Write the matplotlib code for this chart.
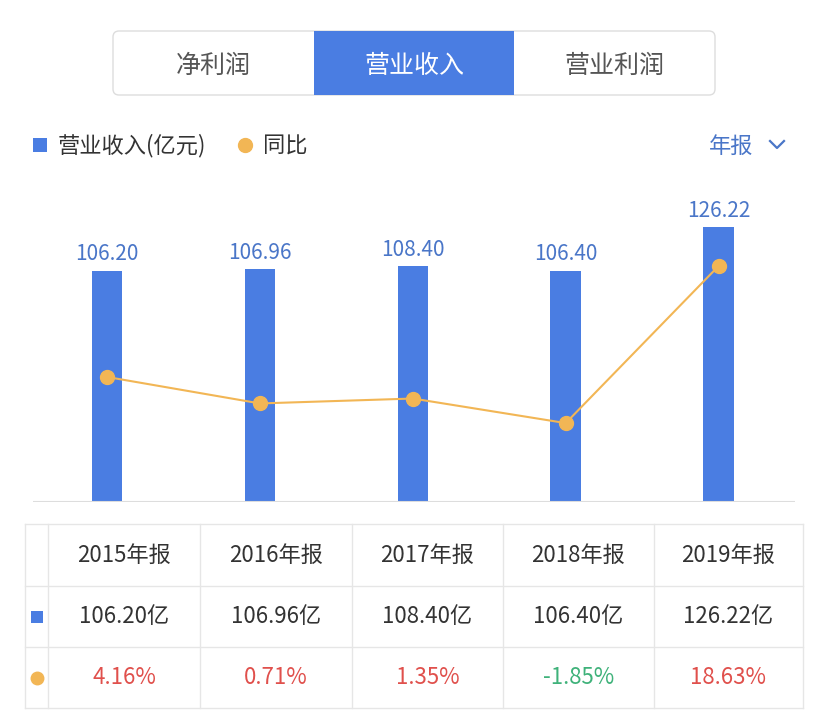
import matplotlib.pyplot as plt
from matplotlib.patches import FancyBboxPatch, Rectangle

plt.rcParams['font.family'] = ['Noto Sans CJK SC', 'DejaVu Sans']

# data
years = ['2015年报', '2016年报', '2017年报', '2018年报', '2019年报']
revenue = [106.20, 106.96, 108.40, 106.40, 126.22]
yoy = [4.16, 0.71, 1.35, -1.85, 18.63]
tabs = ['净利润', '营业收入', '营业利润']
active_tab = 1

bar_color = '#4a7de2'
label_color = '#4a76c8'
line_color = '#f2b655'
red = '#e0504c'
green = '#3fb27a'
text_dark = '#333333'
grid_grey = '#e6e6e6'

W, H = 828, 719
fig = plt.figure(figsize=(W / 100, H / 100), dpi=100)

# overlay for the UI parts, in pixel coords
ui = fig.add_axes([0, 0, 1, 1])
ui.set_xlim(0, W)
ui.set_ylim(H, 0)
ui.axis('off')

# tab buttons
box = FancyBboxPatch((113, 31), 602, 64, boxstyle='round,pad=0,rounding_size=6',
                     fc='white', ec='#dddddd', lw=1)
ui.add_patch(box)
tab_w = 602 / 3
for i, t in enumerate(tabs):
    x0 = 113 + i * tab_w
    if i == active_tab:
        ui.add_patch(Rectangle((x0, 31), tab_w, 64, fc=bar_color, ec='none'))
        c = 'white'
    else:
        c = '#555555'
    ui.text(x0 + tab_w / 2, 66, t, ha='center', va='center', fontsize=18, color=c)

# legend row
ui.add_patch(Rectangle((33, 138), 14, 14, fc=bar_color, ec='none'))
ui.text(58, 146, '营业收入(亿元)', ha='left', va='center', fontsize=16, color=text_dark)
ui.plot([245], [145], 'o', ms=10, color=line_color)
ui.text(263, 146, '同比', ha='left', va='center', fontsize=16, color=text_dark)
ui.text(709, 146, '年报', ha='left', va='center', fontsize=16, color=label_color)
ui.plot([770, 777, 784], [141, 148, 141], color=label_color, lw=1.6)

# chart
ax = fig.add_axes([33 / W, (H - 502) / H, 762 / W, 312 / H])
x = list(range(len(years)))
ax.bar(x, revenue, width=0.2, color=bar_color, zorder=2)
for xi, v in zip(x, revenue):
    ax.annotate(f'{v:.2f}', (xi, v), xytext=(0, 4), textcoords='offset points',
                ha='center', va='bottom', fontsize=15, color=label_color)
ax.set_xlim(-0.485, 4.5)
ax.set_ylim(0, 143.4)
ax.axhline(0, color='#dddddd', lw=1.5, zorder=3)
ax.axis('off')

ax2 = ax.twinx()
ax2.plot(x, yoy, color=line_color, lw=1.5, marker='o', ms=10,
         mfc=line_color, mec=line_color, zorder=4)
ax2.set_ylim(-12.14, 28.54)
ax2.axis('off')

# table
col_edges = [25, 48, 200, 352, 503, 654, 803]
row_edges = [524, 586, 647, 708]
for ye in row_edges:
    ui.plot([col_edges[0], col_edges[-1]], [ye, ye], color=grid_grey, lw=1)
for xe in col_edges:
    ui.plot([xe, xe], [row_edges[0], row_edges[-1]], color=grid_grey, lw=1)

mid_rows = [(row_edges[i] + row_edges[i + 1]) / 2 for i in range(3)]
ui.add_patch(Rectangle((31, mid_rows[1] - 6), 12, 12, fc=bar_color, ec='none'))
ui.plot([37], [mid_rows[2]], 'o', ms=9, color=line_color)
for i in range(len(years)):
    cx = (col_edges[i + 1] + col_edges[i + 2]) / 2
    ui.text(cx, mid_rows[0], years[i], ha='center', va='center', fontsize=16,
            fontweight='medium', color=text_dark)
    ui.text(cx, mid_rows[1], f'{revenue[i]:.2f}亿', ha='center', va='center',
            fontsize=16, fontweight='medium', color=text_dark)
    ui.text(cx, mid_rows[2], f'{yoy[i]:.2f}%', ha='center', va='center', fontsize=16,
            fontweight='medium', color=red if yoy[i] >= 0 else green)

fig.savefig('out.png', dpi=100)
